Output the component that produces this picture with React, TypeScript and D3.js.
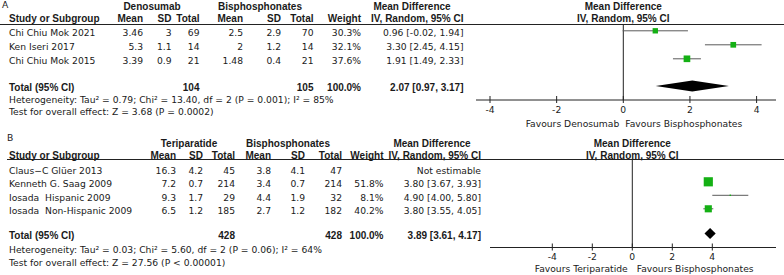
import React from "react";
import * as d3 from "d3";

// ---------- Panel A data ----------
const studiesA = ["Chi Chiu Mok 2021", "Ken Iseri 2017", "Chi Chiu Mok 2015"];
const denoMean = [3.46, 5.3, 3.39];
const denoSD = [3, 1.1, 0.9];
const denoN = [69, 14, 21];
const bisMeanA = [2.5, 2, 1.48];
const bisSDA = [2.9, 1.2, 0.4];
const bisNA = [70, 14, 21];
const weightA = [30.3, 32.1, 37.6];
const mdA = [0.96, 3.3, 1.91];
const loA = [-0.02, 2.45, 1.49];
const hiA = [1.94, 4.15, 2.33];
const totalA = { n1: 104, n2: 105, md: 2.07, lo: 0.97, hi: 3.17 };
const hetA = "Heterogeneity: Tau² = 0.79; Chi² = 13.40, df = 2 (P = 0.001); I² = 85%";
const testA = "Test for overall effect: Z = 3.68 (P = 0.0002)";

// ---------- Panel B data ----------
const studiesB = ["Claus−C Glüer 2013", "Kenneth G. Saag 2009", "Iosada  Hispanic 2009", "Iosada  Non-Hispanic 2009"];
const teriMean = [16.3, 7.2, 9.3, 6.5];
const teriSD = [4.2, 0.7, 1.7, 1.2];
const teriN = [45, 214, 29, 185];
const bisMeanB = [3.8, 3.4, 4.4, 2.7];
const bisSDB = [4.1, 0.7, 1.9, 1.2];
const bisNB = [47, 214, 32, 182];
const weightB: (number | null)[] = [null, 51.8, 8.1, 40.2];
const mdB: (number | null)[] = [null, 3.8, 4.9, 3.8];
const loB: (number | null)[] = [null, 3.67, 4.0, 3.55];
const hiB: (number | null)[] = [null, 3.93, 5.8, 4.05];
const totalB = { n1: 428, n2: 428, md: 3.89, lo: 3.61, hi: 4.17 };
const hetB = "Heterogeneity: Tau² = 0.03; Chi² = 5.60, df = 2 (P = 0.06); I² = 64%";
const testB = "Test for overall effect: Z = 27.56 (P < 0.00001)";

const axisTicks = [-4, -2, 0, 2, 4];
const colHeaders = ["Mean", "SD", "Total", "Mean", "SD", "Total", "Weight", "IV, Random, 95% CI"];

const FONT = "'DejaVu Sans', Verdana, sans-serif";
const BFONT = "'Liberation Sans', Arial, sans-serif";
const TXT = "#1a1a1a";
const GREEN = "#14b014";
const f2 = (v: number) => v.toFixed(2);
const ci = (m: number, l: number, h: number) => `${f2(m)} [${f2(l)}, ${f2(h)}]`;

const sizeScale = d3.scaleLinear().domain([0, 52]).range([0, 9.2]);

type Lay = {
  letterY: number; groupY: number; headY: number; lineY: number;
  rowY0: number; rowStep: number; totalY: number; hetY: number; testY: number;
  axisY: number; tickY: number; favY: number; favGapL: number; favGapR: number;
};

type PanelProps = {
  letter: string;
  letterX: number;
  lay: Lay;
  lineX0: number;
  g1: string; g1x: number; g2: string; g2x: number; mdx: number;
  cols: number[];
  studies: string[];
  cells: string[][];
  total: { n1: number; n2: number; md: number; lo: number; hi: number };
  het: string; test: string;
  x: d3.ScaleLinear<number, number>;
  axisX0: number; axisX1: number;
  md: (number | null)[]; lo: (number | null)[]; hi: (number | null)[]; w: (number | null)[];
  favL: string; favR: string;
};

function T(props: any) {
  const { bold, anchor, children, ...rest } = props;
  return (
    <text
      {...rest}
      dy="0.35em"
      fontFamily={bold ? BFONT : FONT}
      fontSize={bold ? 10 : 9.2}
      fontWeight={bold ? "bold" : "normal"}
      textAnchor={anchor || "start"}
      fill={TXT}
      style={{ whiteSpace: "pre" }}
    >
      {children}
    </text>
  );
}

function Panel(p: PanelProps) {
  const L = p.lay;
  const rowY = (i: number) => L.rowY0 + i * L.rowStep;
  const zeroX = p.x(0);
  const tY = L.totalY;
  return (
    <g>
      <T x={p.letterX} y={L.letterY}>{p.letter}</T>
      <T x={p.g1x} y={L.groupY} bold anchor="middle">{p.g1}</T>
      <T x={p.g2x} y={L.groupY} bold anchor="middle">{p.g2}</T>
      <T x={p.mdx} y={L.groupY} bold anchor="middle">Mean Difference</T>
      <T x={zeroX} y={L.groupY} bold anchor="middle">Mean Difference</T>
      <T x={9} y={L.headY} bold>Study or Subgroup</T>
      {colHeaders.map((h, i) => (
        <T key={i} x={p.cols[i]} y={L.headY} bold anchor="end">{h}</T>
      ))}
      <T x={zeroX} y={L.headY} bold anchor="middle">IV, Random, 95% CI</T>
      <line x1={p.lineX0} x2={784} y1={L.lineY} y2={L.lineY} stroke="#222" strokeWidth={1} />
      {p.studies.map((s, i) => (
        <g key={s}>
          <T x={9} y={rowY(i)}>{s}</T>
          {p.cells[i].map((c, j) => (
            <T key={j} x={p.cols[j]} y={rowY(i)} anchor="end">{c}</T>
          ))}
        </g>
      ))}
      <T x={9} y={tY} bold>Total (95% CI)</T>
      <T x={p.cols[2]} y={tY} bold anchor="end">{String(p.total.n1)}</T>
      <T x={p.cols[5]} y={tY} bold anchor="end">{String(p.total.n2)}</T>
      <T x={p.cols[6]} y={tY} bold anchor="end">100.0%</T>
      <T x={p.cols[7]} y={tY} bold anchor="end">{ci(p.total.md, p.total.lo, p.total.hi)}</T>
      <T x={9} y={L.hetY}>{p.het}</T>
      <T x={9} y={L.testY}>{p.test}</T>

      {/* forest */}
      <line x1={zeroX} x2={zeroX} y1={L.lineY} y2={L.axisY} stroke="#222" />
      {p.md.map((m, i) => {
        if (m === null) return null;
        const y = rowY(i) - 2.2;
        const s = sizeScale(p.w[i] as number);
        return (
          <g key={i}>
            <line x1={p.x(p.lo[i] as number)} x2={p.x(p.hi[i] as number)} y1={y} y2={y} stroke="#5a5a5a" strokeWidth={1} />
            <rect x={p.x(m) - s / 2} y={y - s / 2} width={s} height={s} fill={GREEN} />
          </g>
        );
      })}
      {(() => {
        const y = tY - 1.5;
        const h = 5.5;
        const pts = [
          [p.x(p.total.lo), y],
          [p.x(p.total.md), y - h],
          [p.x(p.total.hi), y],
          [p.x(p.total.md), y + h],
        ];
        return <polygon points={pts.map((q) => q.join(",")).join(" ")} fill="#000" />;
      })()}
      <line x1={p.axisX0} x2={p.axisX1} y1={L.axisY} y2={L.axisY} stroke="#222" />
      {axisTicks.map((t) => (
        <g key={t}>
          <line x1={p.x(t)} x2={p.x(t)} y1={L.axisY - 4} y2={L.axisY + 3} stroke="#222" />
          <T x={p.x(t)} y={L.tickY} anchor="middle">{String(t)}</T>
        </g>
      ))}
      <T x={zeroX - L.favGapL} y={L.favY} anchor="end">{p.favL}</T>
      <T x={zeroX + L.favGapR} y={L.favY}>{p.favR}</T>
    </g>
  );
}

const layA: Lay = {
  letterY: 5, groupY: 6, headY: 18.3, lineY: 24.5,
  rowY0: 33, rowStep: 14, totalY: 87.5, hetY: 99.5, testY: 112,
  axisY: 100, tickY: 110, favY: 124, favGapL: 4, favGapR: 2,
};
const layB: Lay = {
  letterY: 137.3, groupY: 143.3, headY: 155.8, lineY: 159.5,
  rowY0: 170.5, rowStep: 13.5, totalY: 235, hetY: 250, testY: 262.3,
  axisY: 247.5, tickY: 256.7, favY: 269, favGapL: 4.6, favGapR: 4.4,
};

export default function App() {
  const cellsA = studiesA.map((_, i) => [
    String(denoMean[i]), String(denoSD[i]), String(denoN[i]),
    String(bisMeanA[i]), String(bisSDA[i]), String(bisNA[i]),
    weightA[i].toFixed(1) + "%", ci(mdA[i], loA[i], hiA[i]),
  ]);
  const cellsB = studiesB.map((_, i) => [
    String(teriMean[i]), String(teriSD[i]), String(teriN[i]),
    String(bisMeanB[i]), String(bisSDB[i]), String(bisNB[i]),
    weightB[i] === null ? "" : (weightB[i] as number).toFixed(1) + "%",
    mdB[i] === null ? "Not estimable" : ci(mdB[i] as number, loB[i] as number, hiB[i] as number),
  ]);
  const xA = d3.scaleLinear().domain([-4, 4]).range([490, 756.6]);
  const xB = d3.scaleLinear().domain([-4, 4]).range([552.3, 712.3]);
  return (
    <div style={{ position: "absolute", left: 0, top: 0 }}>
      <svg width={784} height={275} style={{ display: "block", background: "#fff" }}>
        <Panel
          letter="A" letterX={2} lay={layA} lineX0={0}
          g1="Denosumab" g1x={152} g2="Bisphosphonates" g2x={260} mdx={412}
          cols={[143, 171.5, 199.5, 243, 281, 313.5, 361, 463.5]}
          studies={studiesA} cells={cellsA}
          total={totalA} het={hetA} test={testA}
          x={xA} axisX0={476} axisX1={776}
          md={mdA} lo={loA} hi={hiA} w={weightA}
          favL="Favours Denosumab" favR="Favours Bisphosphonates"
        />
        <Panel
          letter="B" letterX={7} lay={layB} lineX0={7}
          g1="Teriparatide" g1x={189} g2="Bisphosphonates" g2x={288} mdx={432}
          cols={[176, 203, 235, 271, 305, 342, 383.5, 481]}
          studies={studiesB} cells={cellsB}
          total={totalB} het={hetB} test={testB}
          x={xB} axisX0={490} axisX1={776}
          md={mdB} lo={loB} hi={hiB} w={weightB}
          favL="Favours Teriparatide" favR="Favours Bisphosphonates"
        />
      </svg>
    </div>
  );
}
